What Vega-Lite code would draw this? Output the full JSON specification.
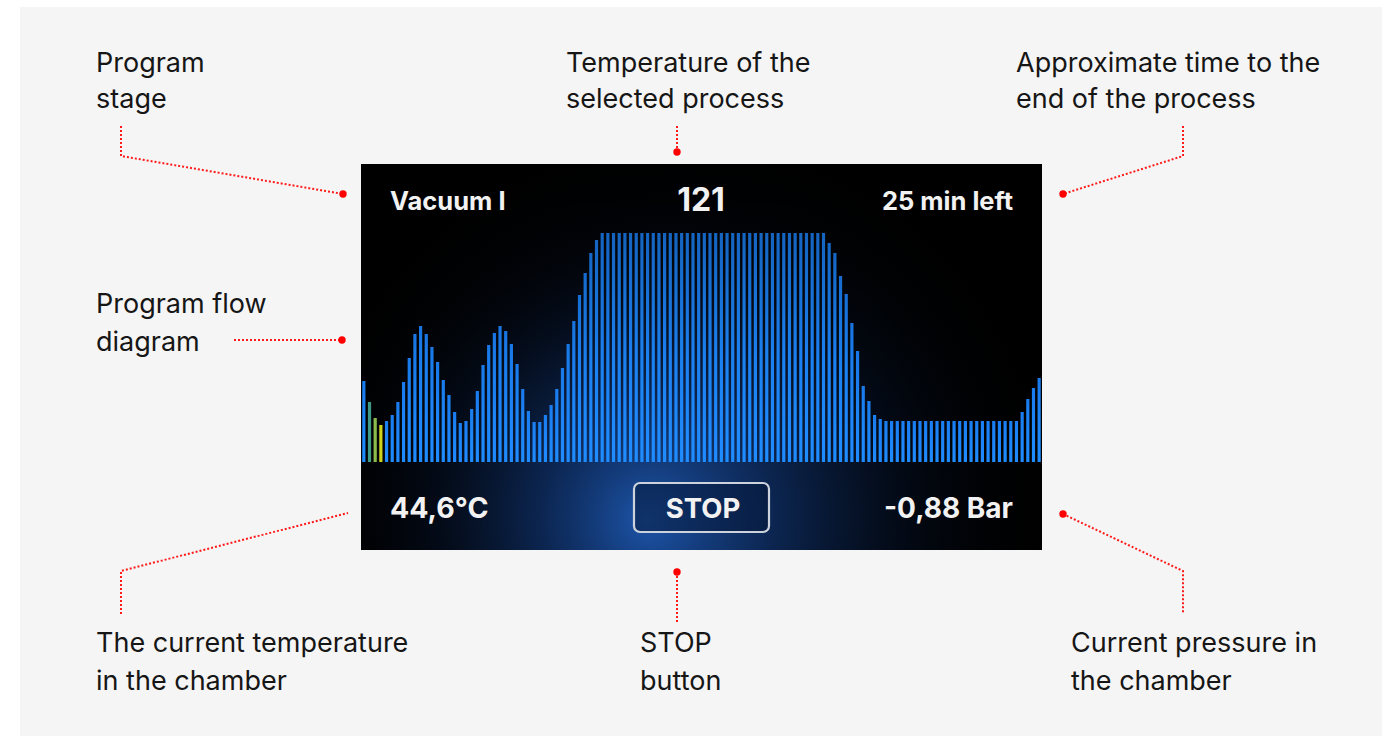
{
  "$schema": "https://vega.github.io/schema/vega-lite/v6.json",
  "width": 1394,
  "height": 736,
  "autosize": "none",
  "padding": 0,
  "background": "#ffffff",
  "config": {"view": {"stroke": null}},
  "datasets": {
    "panels": [
      {"name": "page", "x": 20, "x2": 1382, "y": 7, "y2": 736},
      {"name": "screen", "x": 361, "x2": 1042, "y": 164, "y2": 550},
      {"name": "stop", "x": 634, "x2": 769, "y": 483, "y2": 532}
    ],
    "bars": [
      {"i": 0, "v": 81}, {"i": 1, "v": 60}, {"i": 2, "v": 44}, {"i": 3, "v": 37}, {"i": 4, "v": 41},
      {"i": 5, "v": 47}, {"i": 6, "v": 60}, {"i": 7, "v": 80}, {"i": 8, "v": 104}, {"i": 9, "v": 128},
      {"i": 10, "v": 136}, {"i": 11, "v": 128}, {"i": 12, "v": 115}, {"i": 13, "v": 100}, {"i": 14, "v": 82},
      {"i": 15, "v": 67}, {"i": 16, "v": 50}, {"i": 17, "v": 39}, {"i": 18, "v": 41}, {"i": 19, "v": 53},
      {"i": 20, "v": 71}, {"i": 21, "v": 97}, {"i": 22, "v": 117}, {"i": 23, "v": 129}, {"i": 24, "v": 136},
      {"i": 25, "v": 131}, {"i": 26, "v": 118}, {"i": 27, "v": 98}, {"i": 28, "v": 73}, {"i": 29, "v": 51},
      {"i": 30, "v": 40}, {"i": 31, "v": 40}, {"i": 32, "v": 47}, {"i": 33, "v": 57}, {"i": 34, "v": 73},
      {"i": 35, "v": 94}, {"i": 36, "v": 118}, {"i": 37, "v": 141}, {"i": 38, "v": 167}, {"i": 39, "v": 189},
      {"i": 40, "v": 209}, {"i": 41, "v": 222}, {"i": 42, "v": 229}, {"i": 43, "v": 229}, {"i": 44, "v": 229},
      {"i": 45, "v": 229}, {"i": 46, "v": 229}, {"i": 47, "v": 229}, {"i": 48, "v": 229}, {"i": 49, "v": 229},
      {"i": 50, "v": 229}, {"i": 51, "v": 229}, {"i": 52, "v": 229}, {"i": 53, "v": 229}, {"i": 54, "v": 229},
      {"i": 55, "v": 229}, {"i": 56, "v": 229}, {"i": 57, "v": 229}, {"i": 58, "v": 229}, {"i": 59, "v": 229},
      {"i": 60, "v": 229}, {"i": 61, "v": 229}, {"i": 62, "v": 229}, {"i": 63, "v": 229}, {"i": 64, "v": 229},
      {"i": 65, "v": 229}, {"i": 66, "v": 229}, {"i": 67, "v": 229}, {"i": 68, "v": 229}, {"i": 69, "v": 229},
      {"i": 70, "v": 229}, {"i": 71, "v": 229}, {"i": 72, "v": 229}, {"i": 73, "v": 229}, {"i": 74, "v": 229},
      {"i": 75, "v": 229}, {"i": 76, "v": 229}, {"i": 77, "v": 229}, {"i": 78, "v": 229}, {"i": 79, "v": 229},
      {"i": 80, "v": 229}, {"i": 81, "v": 229}, {"i": 82, "v": 219}, {"i": 83, "v": 209}, {"i": 84, "v": 186},
      {"i": 85, "v": 168}, {"i": 86, "v": 139}, {"i": 87, "v": 111}, {"i": 88, "v": 76}, {"i": 89, "v": 61},
      {"i": 90, "v": 47}, {"i": 91, "v": 43}, {"i": 92, "v": 41}, {"i": 93, "v": 41}, {"i": 94, "v": 41},
      {"i": 95, "v": 41}, {"i": 96, "v": 41}, {"i": 97, "v": 41}, {"i": 98, "v": 41}, {"i": 99, "v": 41},
      {"i": 100, "v": 41}, {"i": 101, "v": 41}, {"i": 102, "v": 41}, {"i": 103, "v": 41}, {"i": 104, "v": 41},
      {"i": 105, "v": 41}, {"i": 106, "v": 41}, {"i": 107, "v": 41}, {"i": 108, "v": 41}, {"i": 109, "v": 41},
      {"i": 110, "v": 41}, {"i": 111, "v": 41}, {"i": 112, "v": 41}, {"i": 113, "v": 41}, {"i": 114, "v": 41},
      {"i": 115, "v": 41}, {"i": 116, "v": 50}, {"i": 117, "v": 63}, {"i": 118, "v": 74}, {"i": 119, "v": 84}
    ],
    "notes": [
      {"text": "Program", "x": 96, "y": 72},
      {"text": "stage", "x": 96, "y": 108},
      {"text": "Temperature of the", "x": 566, "y": 72},
      {"text": "selected process", "x": 566, "y": 108},
      {"text": "Approximate time to the", "x": 1016, "y": 72},
      {"text": "end of the process", "x": 1016, "y": 108},
      {"text": "Program flow", "x": 96, "y": 313},
      {"text": "diagram", "x": 96, "y": 351},
      {"text": "The current temperature", "x": 96, "y": 652},
      {"text": "in the chamber", "x": 96, "y": 690},
      {"text": "STOP", "x": 640, "y": 652},
      {"text": "button", "x": 640, "y": 690},
      {"text": "Current pressure in", "x": 1071, "y": 652},
      {"text": "the chamber", "x": 1071, "y": 690}
    ],
    "screen": [
      {"text": "Vacuum I", "x": 390, "y": 210, "pos": "left", "size": "s"},
      {"text": "121", "x": 701, "y": 211, "pos": "center", "size": "l"},
      {"text": "25 min left", "x": 1013, "y": 210, "pos": "right", "size": "s"},
      {"text": "44,6°C", "x": 390, "y": 518, "pos": "left", "size": "m"},
      {"text": "STOP", "x": 703, "y": 518, "pos": "center", "size": "m"},
      {"text": "-0,88 Bar", "x": 1013, "y": 518, "pos": "right", "size": "m"}
    ],
    "leaders": [
      {"id": "stage", "k": 0, "x": 121, "y": 126}, {"id": "stage", "k": 1, "x": 121, "y": 156}, {"id": "stage", "k": 2, "x": 343, "y": 194},
      {"id": "temp", "k": 0, "x": 677, "y": 126}, {"id": "temp", "k": 1, "x": 677, "y": 152},
      {"id": "time", "k": 0, "x": 1183, "y": 126}, {"id": "time", "k": 1, "x": 1183, "y": 156}, {"id": "time", "k": 2, "x": 1063, "y": 194},
      {"id": "flow", "k": 0, "x": 234, "y": 340}, {"id": "flow", "k": 1, "x": 342, "y": 340},
      {"id": "cur", "k": 0, "x": 121, "y": 614}, {"id": "cur", "k": 1, "x": 121, "y": 571}, {"id": "cur", "k": 2, "x": 348, "y": 513},
      {"id": "stop", "k": 0, "x": 677, "y": 572}, {"id": "stop", "k": 1, "x": 677, "y": 622},
      {"id": "pres", "k": 0, "x": 1063, "y": 514}, {"id": "pres", "k": 1, "x": 1183, "y": 571}, {"id": "pres", "k": 2, "x": 1183, "y": 614}
    ],
    "dots": [
      {"x": 343, "y": 194}, {"x": 677, "y": 152}, {"x": 1063, "y": 194},
      {"x": 342, "y": 340}, {"x": 677, "y": 572}, {"x": 1063, "y": 514}
    ]
  },
  "resolve": {"scale": {"x": "independent", "y": "independent", "color": "independent"}},
  "layer": [
    {
      "data": {"name": "panels"},
      "encoding": {
        "x": {"field": "x", "type": "quantitative", "scale": {"domain": [0, 1394], "nice": false, "zero": false}, "axis": null},
        "x2": {"field": "x2"},
        "y": {"field": "y", "type": "quantitative", "scale": {"domain": [0, 736], "reverse": true, "nice": false, "zero": false}, "axis": null},
        "y2": {"field": "y2"}
      },
      "layer": [
        {"transform": [{"filter": "datum.name == 'page'"}], "mark": {"type": "rect", "fill": "#f5f5f5"}},
        {"transform": [{"filter": "datum.name == 'screen'"}], "mark": {"type": "rect", "fill": "#000000"}},
        {"transform": [{"filter": "datum.name == 'screen'"}], "mark": {"type": "rect", "fill": {"gradient": "radial", "x1": 0.42, "y1": 0.74, "r1": 0, "x2": 0.47, "y2": 0.72, "r2": 0.56, "stops": [{"offset": 0, "color": "rgba(34,100,200,0.85)"}, {"offset": 0.3, "color": "rgba(22,70,150,0.55)"}, {"offset": 0.65, "color": "rgba(12,36,80,0.22)"}, {"offset": 1, "color": "rgba(0,0,0,0)"}]}}}
      ]
    },
    {
      "data": {"name": "bars"},
      "mark": {"type": "bar", "size": 3.2},
      "encoding": {
        "x": {"field": "i", "type": "quantitative", "scale": {"domain": [-0.5, 119.5], "range": [361, 1042], "padding": 0, "nice": false, "zero": false}, "axis": null},
        "y": {"field": "v", "type": "quantitative", "scale": {"domain": [0, 250], "range": [462, 212], "padding": 0, "nice": false}, "axis": null},
        "color": {
          "condition": [
            {"test": "datum.i == 1", "value": "#3f9a86"},
            {"test": "datum.i == 2", "value": "#8abd4c"},
            {"test": "datum.i == 3", "value": "#cdd21c"}
          ],
          "value": {"gradient": "linear", "x1": 0, "y1": 0, "x2": 0, "y2": 1, "stops": [{"offset": 0, "color": "#1a7ef2"}, {"offset": 1, "color": "#1f8cff"}]}
        }
      }
    },
    {
      "data": {"name": "panels"},
      "encoding": {
        "x": {"field": "x", "type": "quantitative", "scale": {"domain": [0, 1394], "nice": false, "zero": false}, "axis": null},
        "y": {"field": "y", "type": "quantitative", "scale": {"domain": [0, 736], "reverse": true, "nice": false, "zero": false}, "axis": null}
      },
      "layer": [
        {"transform": [{"filter": "datum.name == 'screen'"}], "mark": {"type": "rect", "fill": {"gradient": "linear", "x1": 0, "y1": 0, "x2": 0, "y2": 1, "stops": [{"offset": 0, "color": "rgba(0,0,0,0.3)"}, {"offset": 0.2, "color": "rgba(0,0,0,0.2)"}, {"offset": 0.5, "color": "rgba(0,0,0,0.04)"}, {"offset": 0.7, "color": "rgba(0,0,0,0)"}, {"offset": 1, "color": "rgba(0,0,0,0)"}]}}, "encoding": {"x2": {"field": "x2"}, "y2": {"field": "y2"}}},
        {"transform": [{"filter": "datum.name == 'stop'"}], "mark": {"type": "rect", "fill": "rgba(6,24,56,0.55)", "stroke": "#ccd3dc", "strokeWidth": 2.2, "cornerRadius": 6}, "encoding": {"x2": {"field": "x2"}, "y2": {"field": "y2"}}},
        {
          "data": {"name": "leaders"},
          "mark": {"type": "line", "color": "#ff1a1a", "strokeWidth": 2, "strokeDash": [2, 2]},
          "encoding": {"detail": {"field": "id"}, "order": {"field": "k", "type": "quantitative"}}
        },
        {
          "data": {"name": "dots"},
          "mark": {"type": "point", "filled": true, "color": "#ff0000", "size": 55, "opacity": 1}
        },
        {
          "data": {"name": "notes"},
          "mark": {"type": "text", "align": "left", "baseline": "alphabetic", "font": "Inter", "fontSize": 27, "color": "#161616"},
          "encoding": {"text": {"field": "text"}}
        },
        {
          "data": {"name": "screen"},
          "transform": [{"filter": "datum.pos == 'left'"}],
          "mark": {"type": "text", "align": "left", "baseline": "alphabetic", "font": "Inter", "fontWeight": "bold", "color": "#f2f2f2"},
          "encoding": {"text": {"field": "text"}, "size": {"condition": {"test": "datum.size == 's'", "value": 25.5}, "value": 28.5}}
        },
        {
          "data": {"name": "screen"},
          "transform": [{"filter": "datum.pos == 'center'"}],
          "mark": {"type": "text", "align": "center", "baseline": "alphabetic", "font": "Inter", "fontWeight": "bold", "color": "#f2f2f2"},
          "encoding": {"text": {"field": "text"}, "size": {"condition": {"test": "datum.size == 'l'", "value": 32}, "value": 27.5}}
        },
        {
          "data": {"name": "screen"},
          "transform": [{"filter": "datum.pos == 'right'"}],
          "mark": {"type": "text", "align": "right", "baseline": "alphabetic", "font": "Inter", "fontWeight": "bold", "color": "#f2f2f2"},
          "encoding": {"text": {"field": "text"}, "size": {"condition": {"test": "datum.size == 's'", "value": 25.5}, "value": 28}}
        }
      ]
    }
  ]
}
